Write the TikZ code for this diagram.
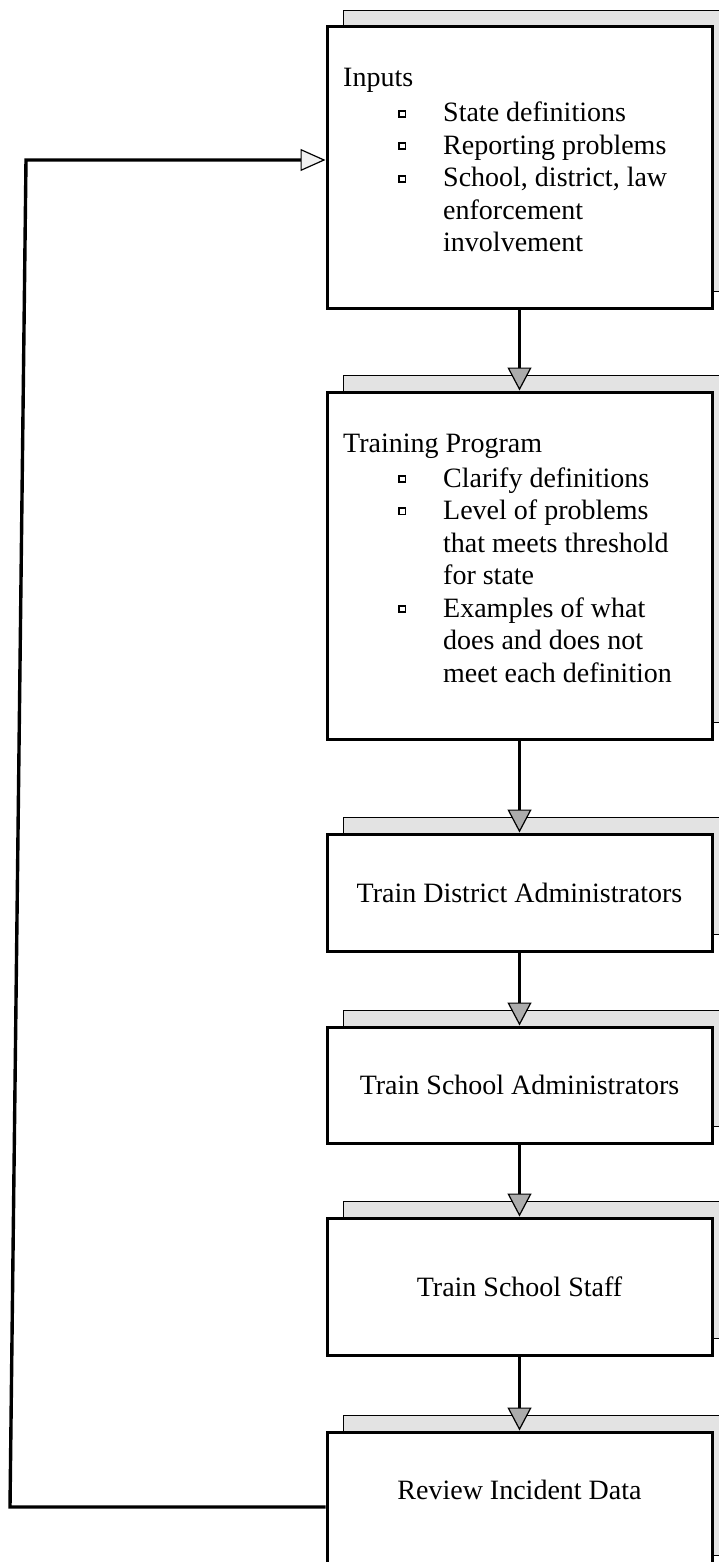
\documentclass[tikz,border=0pt]{standalone}
\usepackage{fontspec}
\setmainfont{Liberation Serif}
\usetikzlibrary{arrows.meta,shadows}
\newcommand\listbul{\raisebox{6pt}{\setlength\fboxsep{0pt}\setlength\fboxrule{1.9pt}\fbox{\rule{0pt}{4.4pt}\rule{4.4pt}{0pt}}}}
\begin{document}
\begin{tikzpicture}[x=1pt,y=-1pt,
  box/.style={draw, line width=3pt, fill=white, minimum width=385pt, inner sep=0pt,
    font=\fontsize{28}{32.5}\selectfont,
    general shadow={shadow xshift=16pt, shadow yshift=17pt, fill=gray!22, draw=black, line width=0.9pt}},
  txt/.style={inner sep=0pt, font=\fontsize{28}{32.5}\selectfont},
  flow/.style={line width=3.6pt, -{Triangle[length=23pt,width=24pt,line width=1.2pt,fill=gray!65]}},
  fb/.style={line width=3.4pt, line join=miter, -{Triangle[length=25pt,width=22pt,line width=1.2pt,fill=gray!12]}}]
\useasboundingbox (0,0) rectangle (719,1562);
\clip (0,0) rectangle (719,1562);

\node[box, minimum height=281pt] (b1) at (519.5,167.5) {};
\node[box, minimum height=347pt] (b2) at (519.5,565.5) {};
\node[box, minimum height=117pt] (b3) at (519.5,892.5) {Train District Administrators};
\node[box, minimum height=116pt] (b4) at (519.5,1085) {Train School Administrators};
\node[box, minimum height=137pt] (b5) at (519.5,1286.5) {Train School Staff};
\node[box, minimum height=140pt] (b6) at (519.5,1502) {};
\node[txt, anchor=base] (t6) at (519.5,1499) {Review Incident Data};

\node[txt, anchor=base west] (t1) at (343,87) {\begin{tabular}[t]{@{}p{55pt}@{}p{45pt}@{}l@{}}
\multicolumn{3}{@{}l@{}}{Inputs}\\[2.5pt]
 & \listbul & State definitions\\
 & \listbul & Reporting problems\\
 & \listbul & School, district, law\\
 & & enforcement\\
 & & involvement
\end{tabular}};

\node[txt, anchor=base west] (t2) at (343,452) {\begin{tabular}[t]{@{}p{55pt}@{}p{45pt}@{}l@{}}
\multicolumn{3}{@{}l@{}}{Training Program}\\[2.5pt]
 & \listbul & Clarify definitions\\
 & \listbul & Level of problems\\
 & & that meets threshold\\
 & & for state\\
 & \listbul & Examples of what\\
 & & does and does not\\
 & & meet each definition
\end{tabular}};

\draw[flow] (b1.south) -- (b2.north);
\draw[flow] (b2.south) -- (b3.north);
\draw[flow] (b3.south) -- (b4.north);
\draw[flow] (b4.south) -- (b5.north);
\draw[flow] (b5.south) -- (b6.north);

\coordinate (fbl) at (10,1507);
\coordinate (ftl) at (26,160);
\draw[fb] (fbl -| b6.west) -- (fbl) -- (ftl) -- (ftl -| b1.west);
\end{tikzpicture}
\end{document}
